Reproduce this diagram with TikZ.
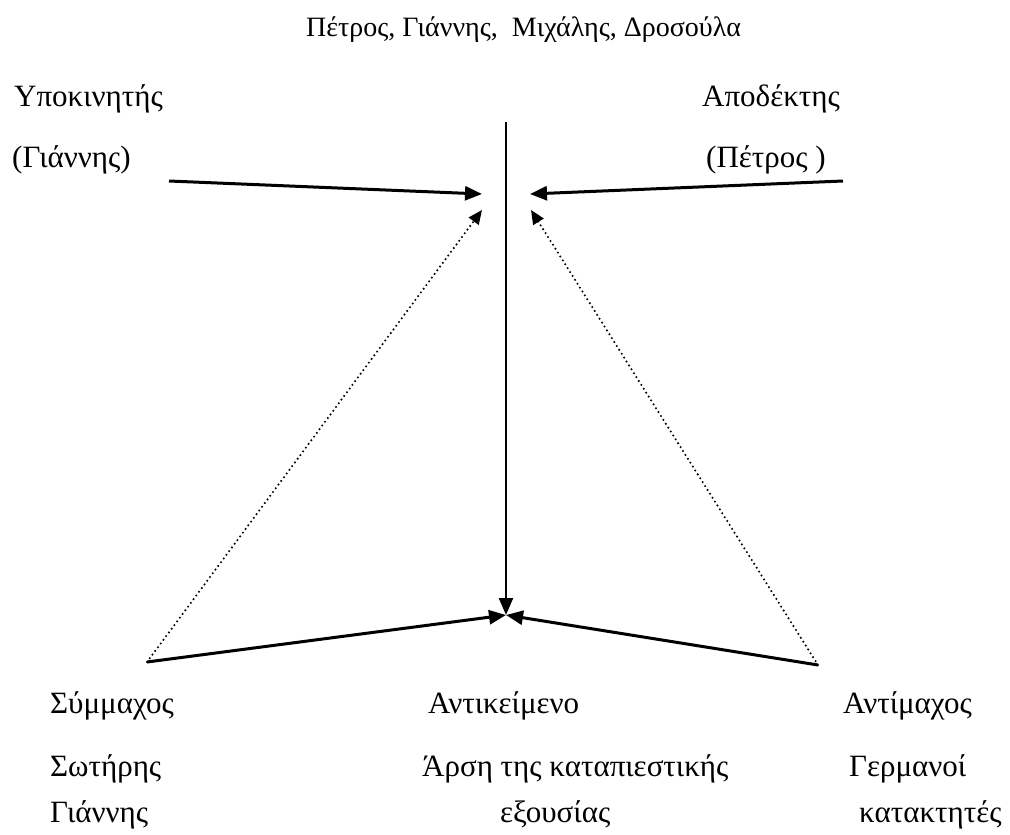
\documentclass[tikz,border=0pt]{standalone}
\usepackage{fontspec}
\setmainfont{Liberation Serif}
\usetikzlibrary{arrows.meta}
\begin{document}
\begin{tikzpicture}[x=1pt,y=-1pt,
  lbl/.style={anchor=base west, inner sep=0pt, font=\fontsize{31}{36}\selectfont},
  headlbl/.style={lbl, font=\fontsize{28}{33}\selectfont},
  solidarrow/.style={line width=3pt, -{Triangle[length=17pt,width=14pt]}},
  thinarrow/.style={line width=2.3pt, -{Triangle[length=17pt,width=14pt]}},
  dotarrow/.style={line width=2.3pt, dash pattern=on 0pt off 4.6pt, line cap=round,
    -{Triangle[length=14pt,width=12pt]}}]
\useasboundingbox[fill=white] (0,0) rectangle (1010,835);

% actants
\node[headlbl] (cast) at (306,36) {Πέτρος, Γιάννης,\ \ Μιχάλης, Δροσούλα};
\node[lbl] (sender) at (14,106) {Υποκινητής};
\node[lbl] (sendername) at (12,167) {(Γιάννης)};
\node[lbl] (receiver) at (702,106) {Αποδέκτης};
\node[lbl] (receivername) at (706,167) {(Πέτρος )};

\node[lbl] (helper) at (50,713) {Σύμμαχος};
\node[lbl] (object) at (428,713) {Αντικείμενο};
\node[lbl] (opponent) at (843,713) {Αντίμαχος};
\node[lbl] (helper2) at (50,776) {Σωτήρης};
\node[lbl] (object2) at (422,776) {Άρση της καταπιεστικής};
\node[lbl] (opponent2) at (849,776) {Γερμανοί};
\node[lbl] (helper3) at (50,822) {Γιάννης};
\node[lbl] (object3) at (500,822) {εξουσίας};
\node[lbl] (opponent3) at (859,822) {κατακτητές};

% anchor points of the connectors
\coordinate (axisTop) at (506,122);
\coordinate (hub) at (506,615);
\coordinate (senderStart) at (169,181);
\coordinate (senderTip) at (482,194);
\coordinate (receiverStart) at (843,181);
\coordinate (receiverTip) at (530,194);
\coordinate (helperPt) at (147,662);
\coordinate (opponentPt) at (818,665);
\coordinate (helperTip) at (482,210);
\coordinate (opponentTip) at (531,210);

% connectors
\draw[thinarrow] (axisTop) -- (hub);
\draw[solidarrow] (senderStart) -- (senderTip);
\draw[solidarrow] (receiverStart) -- (receiverTip);
\draw[solidarrow] (helperPt) -- (hub);
\draw[solidarrow] (opponentPt) -- (hub);
\draw[dotarrow] (helperPt) -- (helperTip);
\draw[dotarrow] (opponentPt) -- (opponentTip);
\end{tikzpicture}
\end{document}
